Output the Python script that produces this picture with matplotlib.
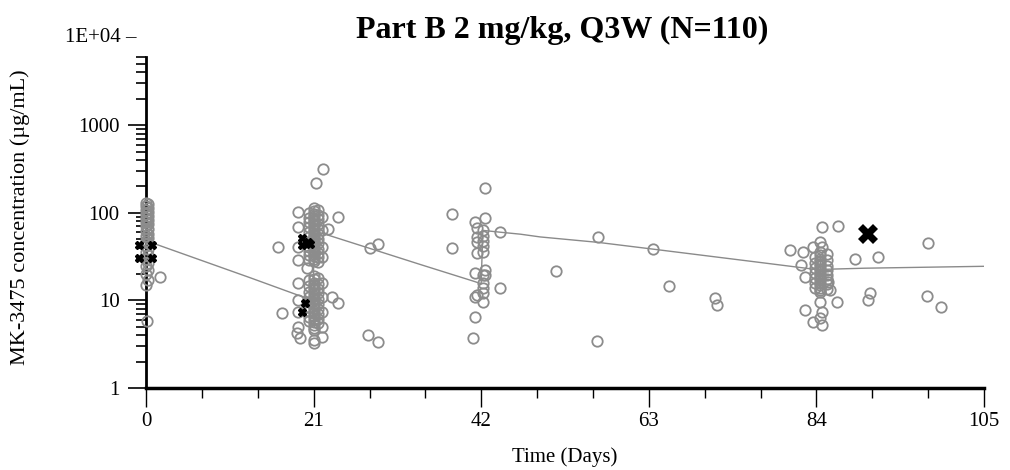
import numpy as np
import matplotlib
matplotlib.use("Agg")
from matplotlib import pyplot as plt
from matplotlib import ticker
from matplotlib import transforms

plt.rcParams['font.family'] = ['Liberation Serif', 'DejaVu Serif']

# model (typical value) line
linha_dias = [0, 13, 18.9, 20.99, 21, 22.7, 31.8, 34.3, 41, 41.99, 42.2, 44.4, 46.9, 49.4, 56.6, 63, 75.7, 84, 90, 105]
linha_conc = [48, 18.2, 11.6, 10.0, 62, 56, 30.5, 25.8, 16.6, 15.5, 63, 60, 57, 53, 46, 39, 28, 22.5, 23.3, 24.5]

# observed concentrations (open grey circles)
obs_dias = (
    # dia 0
    [0.0] * 16 + [0.3] * 15 + [1.75, 0.1]
    # dia 21, pico (coluna central e vizinhas)
    + [21.0] * 24 + [21.6] * 12 + [20.4] * 11
    # dia 21, vale
    + [21.0] * 21 + [21.6] * 10 + [20.4] * 9
    # dia 21, extremos
    + [22.2, 21.3, 24.1, 16.5, 22.8, 28.1, 29.1, 27.8, 29.1, 17.0, 24.1, 23.3,
       19.0, 18.9, 19.3, 21.0, 21.0, 19.0, 19.0, 19.0, 19.0, 20.2, 19.0, 19.0, 19.0,
       22.1, 22.1, 22.1, 22.1, 22.1, 22.1, 22.1, 22.1, 22.1]
    # dia 42
    + [42.5, 38.3, 38.3, 41.2, 42.5, 41.5, 41.5, 41.5, 41.5, 42.2, 42.2, 42.2, 42.2, 42.2,
       44.4, 41.2, 42.5, 42.2, 42.2, 42.2, 42.2, 41.2, 42.2, 41.5, 44.4, 41.2, 41.0, 42.5]
    # entre 42 e 84
    + [56.6, 51.4, 63.5, 65.5, 71.3, 71.6, 56.5]
    # dia 84
    + [84.5] * 17 + [85.3] * 8 + [83.8] * 7
    + [84.7, 86.7, 80.7, 82.3, 83.6, 84.5, 84.7, 88.8, 91.7, 82.1, 82.6, 85.7, 85.5, 86.6,
       84.5, 84.7, 82.6, 83.6, 84.7, 84.5, 90.7, 90.5]
    # depois de 91
    + [98.0, 97.9, 99.6]
)
obs_conc = (
    [130, 120, 108, 97, 87, 78, 70, 62, 55, 48, 42, 36, 30, 25, 20, 15,
     125, 113, 102, 92, 82, 74, 66, 58, 51, 45, 39, 33, 27, 22, 17, 18.5, 5.8]
    + [113, 105, 98, 92, 86, 80, 75, 70, 66, 62, 58, 55, 52, 49, 46, 44, 42, 40, 38, 36, 34, 32, 30, 28]
    + [108, 95, 84, 74, 65, 57, 50, 45, 39, 35, 31, 27.5]
    + [100, 88, 78, 69, 60, 53, 47, 41, 37, 33, 29]
    + [19, 17.5, 16, 15, 14, 13, 12, 11.3, 10.6, 10, 9.4, 8.8, 8.2, 7.6, 7.1, 6.6, 6.1, 5.7, 5.3, 4.9, 4.6]
    + [18, 15.5, 13.5, 12, 10.5, 9.2, 8, 7, 6.2, 5.5]
    + [17, 14.5, 12.5, 11, 9.7, 8.5, 7.5, 6.5, 5.8]
    + [316, 219, 89.6, 40.7, 65, 39.7, 44, 4.0, 3.35, 7.2, 9.35, 10.9,
       4.97, 4.25, 3.7, 3.5, 3.26, 101, 68.6, 40.7, 29, 23.4, 15.8, 10, 7.4,
       89.6, 63.5, 40.7, 31.3, 15.8, 10.9, 7.4, 5.0, 3.8]
    + [192, 97, 39.5, 78.5, 87.6, 67, 53, 46.5, 34.8, 63, 55, 48, 42, 36,
       60, 20.5, 22.2, 19.5, 16, 14, 12, 10.9, 9.6, 11.5, 13.9, 6.5, 3.7, 19.5]
    + [53, 21.7, 38.6, 14.6, 10.6, 8.9, 3.44]
    + [36, 33, 30, 28, 26, 24.5, 23, 21.5, 20, 19, 18, 17, 16, 15, 14, 13, 12.5]
    + [34, 29, 25, 22, 19.5, 17.5, 15.5, 13.5]
    + [31, 27, 23.5, 20.5, 18, 16, 14]
    + [68.7, 70.8, 37.7, 35.7, 40.7, 46.5, 40.7, 29.7, 31.3, 25.4, 18.5, 13.1, 16.2, 9.6,
       9.6, 7.4, 7.8, 5.66, 5.2, 6.3, 12.2, 10.1]
    + [45.2, 11.2, 8.4]
)

# pontos em destaque (preto)
dest_dias = [-0.9, 0.75, -0.9, 0.75, 19.6, 20.3, 19.6, 20.5, 19.9, 19.5]
dest_conc = [43, 43, 30.5, 30.5, 51.5, 47, 43, 44, 9.3, 7.4]
grande_dia = [90.5]
grande_conc = [58]

fig = plt.figure(figsize=(10.1, 4.7), dpi=100)
ax = fig.add_axes([0.1446, 0.1745, 0.8297, 0.7455])

ax.plot(linha_dias, linha_conc, color='#8a8a8a', lw=1.0, zorder=2)
ax.plot(obs_dias, obs_conc, 'o', mfc='none', mec='#8c8c8c', ms=7.5, mew=1.3,
        clip_on=False, zorder=3)
ax.plot(dest_dias, dest_conc, 'X', color='black', ms=6, clip_on=False, zorder=4)
ax.plot(grande_dia, grande_conc, 'X', color='black', ms=15, mew=0, zorder=5)

ax.set_yscale('log')
ax.set_xlim(0, 105)
ax.set_ylim(1, 1e4)

for s in ['top', 'right']:
    ax.spines[s].set_visible(False)
ax.spines['left'].set_bounds(1, 6000)
ax.spines['left'].set_linewidth(2)
ax.spines['bottom'].set_linewidth(2.5)

ax.set_xticks([0, 21, 42, 63, 84, 105])
ax.xaxis.set_minor_locator(ticker.MultipleLocator(7))
ax.set_yticks([1, 10, 100, 1000])
ax.set_yticklabels(['1', '10', '100', '1000'])
menores = [m * 10 ** d for d in range(4) for m in range(2, 10) if m * 10 ** d <= 6000]
ax.yaxis.set_minor_locator(ticker.FixedLocator(menores))
ax.yaxis.set_minor_formatter(ticker.NullFormatter())

ax.tick_params(axis='x', which='major', length=14, width=1, labelsize=15, pad=3)
ax.tick_params(axis='x', which='minor', length=7, width=1)
ax.tick_params(axis='y', which='major', length=13, width=1.2, labelsize=15, pad=6)
ax.tick_params(axis='y', which='minor', length=7, width=1.2)

trans = transforms.blended_transform_factory(ax.transAxes, ax.transData)
ax.annotate('1E+04 \u2013', xy=(0, 1e4), xycoords=trans, xytext=(-7, 0),
            textcoords='offset points', ha='right', va='center', fontsize=15,
            annotation_clip=False)

ax.set_xlabel('Time (Days)', fontsize=15, labelpad=12)
ax.set_ylabel('MK-3475 concentration (\u00b5g/mL)', fontsize=16)
ax.yaxis.set_label_coords(-0.138, 0.488)
fig.text(0.557, 1 - 30 / 470, 'Part B 2 mg/kg, Q3W (N=110)', fontsize=23,
         fontweight='bold', ha='center', va='center')

fig.savefig('out.png', dpi=100)
